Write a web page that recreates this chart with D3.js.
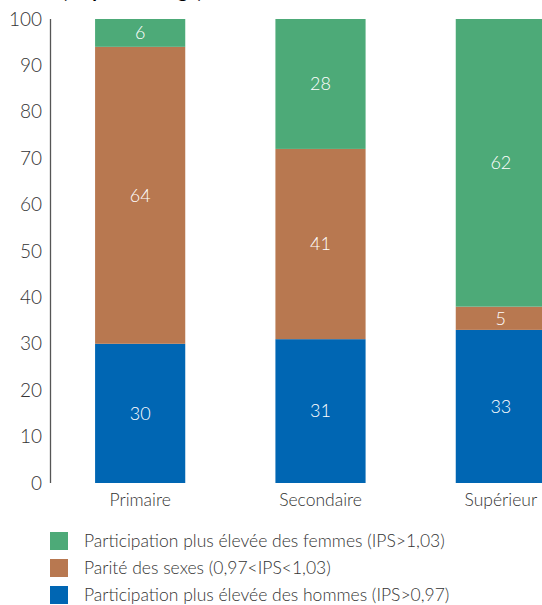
<!DOCTYPE html>
<html><head><meta charset="utf-8">
<script src="https://cdn.jsdelivr.net/npm/d3@7"></script>
<style>
body{margin:0;background:#fff;}
svg{display:block;}
text{font-family:"Lato","Noto Sans",sans-serif;}
</style></head>
<body><svg id="c" width="542" height="605"></svg>
<script>
const categories = ["Primaire","Secondaire","Supérieur"];
const seriesNames = ["Participation plus élevée des hommes (IPS>0,97)","Parité des sexes (0,97<IPS<1,03)","Participation plus élevée des femmes (IPS>1,03)"];
const hommes = [30,31,33];
const parite = [64,41,5];
const femmes = [6,28,62];
const yTicks = [0,10,20,30,40,50,60,70,80,90,100];
const colors = ["#0066b3","#b87850","#4daa78"];

const svg = d3.select("#c");
const x = d3.scaleBand().domain(categories).range([50,591]).paddingInner(0.5).paddingOuter(0.25);
const y = d3.scaleLinear().domain([0,100]).range([483,19]);

svg.append("text").attr("x",62).attr("y",-2).attr("font-weight",700).attr("font-size",19).attr("fill","#000").text("(en pourcentage)");

const rows = categories.map((c,i)=>({cat:c,h:hommes[i],p:parite[i],f:femmes[i]}));
const stack = d3.stack().keys(["h","p","f"])(rows);

const g = svg.append("g");
stack.forEach((layer,li)=>{
  g.selectAll(null).data(layer).enter().append("rect")
    .attr("x",d=>x(d.data.cat)).attr("width",x.bandwidth())
    .attr("y",d=>y(d[1])).attr("height",d=>y(d[0])-y(d[1]))
    .attr("fill",colors[li]);
  g.selectAll(null).data(layer).enter().append("text")
    .attr("x",d=>x(d.data.cat)+x.bandwidth()/2)
    .attr("y",d=>(y(d[0])+y(d[1]))/2)
    .attr("dy","0.35em").attr("text-anchor","middle")
    .attr("font-size",18).attr("font-weight",300).attr("fill","#fff")
    .text(d=>d[1]-d[0]);
});

const yAxis = svg.append("g").attr("transform","translate(50,0)")
  .call(d3.axisLeft(y).tickValues(yTicks).tickSize(0).tickPadding(8));
yAxis.select(".domain").attr("stroke","#555").attr("stroke-width",1.3).attr("d","M0.5,19V483");
yAxis.selectAll("text").attr("font-size",19).attr("font-weight",300).attr("fill","#333").attr("font-family","Lato, sans-serif");

const xAxis = svg.append("g").attr("transform","translate(0,483)")
  .call(d3.axisBottom(x).tickSize(0).tickPadding(11));
xAxis.select(".domain").remove();
xAxis.selectAll("text").attr("font-size",17.5).attr("font-weight",300).attr("fill","#333").attr("font-family","Lato, sans-serif");

const legendOrder = [2,1,0];
const lg = svg.append("g");
legendOrder.forEach((si,k)=>{
  const yy = 532 + k*27;
  lg.append("rect").attr("x",50).attr("y",yy).attr("width",18).attr("height",18).attr("fill",colors[si]);
  lg.append("text").attr("x",84).attr("y",yy+9).attr("dy","0.35em").attr("font-size",17.5).attr("font-weight",300).attr("fill","#333").text(seriesNames[si]);
});
</script></body></html>
